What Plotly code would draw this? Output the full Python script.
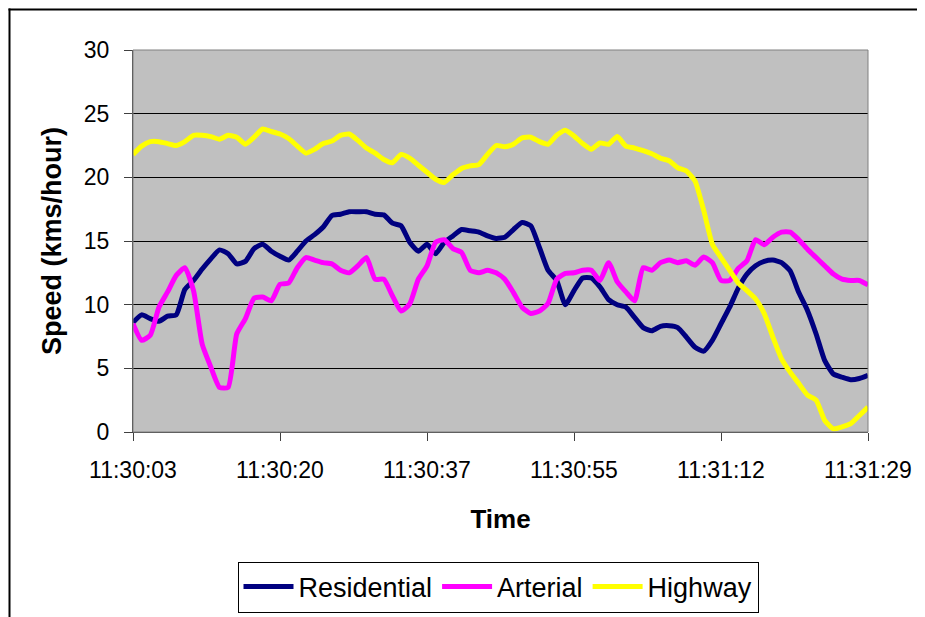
import plotly.graph_objects as go
import numpy as np

tick_labels = ["11:30:03", "11:30:20", "11:30:37", "11:30:55", "11:31:12", "11:31:29"]

residential = [8.6, 9.2, 8.9, 8.7, 9.1, 9.2, 11.2, 11.9, 12.8, 13.6,
               14.3, 14.0, 13.2, 13.4, 14.4, 14.75, 14.2, 13.8, 13.5, 14.2,
               15.0, 15.5, 16.1, 17.0, 17.1, 17.3, 17.3, 17.3, 17.1, 17.05,
               16.4, 16.2, 14.9, 14.2, 14.75, 14.0, 14.9, 15.4, 15.9, 15.8,
               15.7, 15.4, 15.2, 15.3, 15.9, 16.45, 16.2, 14.5, 12.7, 11.9,
               10.0, 11.1, 12.1, 12.1, 11.4, 10.4, 10.0, 9.8, 9.0, 8.2,
               7.95, 8.3, 8.35, 8.2, 7.45, 6.65, 6.35, 7.2, 8.5, 9.8,
               11.3, 12.4, 13.05, 13.4, 13.5, 13.3, 12.65, 10.95, 9.55, 7.7,
               5.6, 4.55, 4.3, 4.1, 4.2, 4.45]

arterial = [8.5, 7.2, 7.6, 9.8, 11.0, 12.3, 12.9, 11.1, 6.9, 5.1,
            3.5, 3.5, 7.7, 8.9, 10.5, 10.6, 10.3, 11.6, 11.7, 12.9,
            13.7, 13.5, 13.3, 13.2, 12.7, 12.5, 13.05, 13.7, 12.0, 12.0,
            10.7, 9.5, 10.05, 12.0, 13.05, 14.9, 15.1, 14.4, 14.1, 12.7,
            12.5, 12.7, 12.5, 12.0, 10.95, 9.8, 9.3, 9.5, 10.1, 12.0,
            12.45, 12.5, 12.7, 12.7, 11.9, 13.3, 11.8, 11.0, 10.3, 12.9,
            12.7, 13.3, 13.5, 13.3, 13.45, 13.1, 13.75, 13.3, 11.9, 11.9,
            12.85, 13.45, 15.1, 14.7, 15.3, 15.7, 15.7, 15.1, 14.35, 13.7,
            13.05, 12.4, 12.0, 11.9, 11.9, 11.55]

highway = [21.8, 22.45, 22.8, 22.8, 22.65, 22.5, 22.8, 23.3, 23.3, 23.2,
           23.0, 23.3, 23.15, 22.6, 23.15, 23.8, 23.6, 23.4, 23.05, 22.45,
           21.9, 22.2, 22.65, 22.85, 23.3, 23.4, 22.9, 22.3, 21.9, 21.4,
           21.15, 21.8, 21.5, 20.95, 20.4, 19.85, 19.6, 20.2, 20.7, 20.9,
           21.0, 21.8, 22.5, 22.4, 22.6, 23.1, 23.15, 22.8, 22.6, 23.3,
           23.7, 23.25, 22.65, 22.2, 22.7, 22.6, 23.2, 22.45, 22.3, 22.1,
           21.85, 21.5, 21.3, 20.75, 20.5, 19.7, 17.4, 14.75, 13.7, 12.7,
           11.7, 11.1, 10.45, 9.3, 7.45, 5.75, 4.7, 3.8, 2.9, 2.5,
           0.9, 0.25, 0.4, 0.65, 1.3, 1.95]

n = len(residential)
x = list(range(n))
tick_vals = list(np.linspace(0, n - 1, len(tick_labels)))

FONT = "Liberation Sans, Arial, sans-serif"

fig = go.Figure()
for name, ys, color in [("Residential", residential, "#000080"),
                        ("Arterial", arterial, "#FF00FF"),
                        ("Highway", highway, "#FFFF00")]:
    fig.add_trace(go.Scatter(x=x, y=ys, mode="lines", name=name,
                             line=dict(color=color, width=5, shape="spline", smoothing=0.5)))

# page has an 8px body margin: figure coords = screen coords - 8
OFF = 8
W, H = 925 - 2 * OFF, 617 - OFF
L, R, T = 133 - OFF, 925 - OFF - 868, 50 - OFF
B = H - (432 - OFF)
pw, ph = W - L - R, H - T - B

def px(xs):
    return (xs - OFF - L) / pw

def py(ys):
    return (H - B - (ys - OFF)) / ph

fig.update_layout(
    width=W, height=H,
    margin=dict(l=L, r=R, t=T, b=B, autoexpand=False),
    paper_bgcolor="white",
    plot_bgcolor="#C0C0C0",
    font=dict(family=FONT, color="black", size=23),
    showlegend=True,
    legend=dict(orientation="h", x=px(498), y=py(587), xanchor="center", yanchor="middle",
                bordercolor="black", borderwidth=1, bgcolor="white",
                font=dict(size=27, family=FONT), itemwidth=50),
    xaxis=dict(range=[0, n - 1], tickvals=tick_vals, ticktext=tick_labels,
               showgrid=False, zeroline=False, showline=True, linecolor="#404040", linewidth=1,
               ticks="outside", ticklen=8, tickcolor="#404040",
               tickfont=dict(size=23), ticklabelstandoff=9,
               title=dict(text="<b>Time</b>", font=dict(size=26), standoff=28)),
    yaxis=dict(range=[0, 30], dtick=5, showgrid=True, gridcolor="#000000", gridwidth=1,
               zeroline=False, showline=True, linecolor="#404040", linewidth=1,
               ticks="outside", ticklen=8, tickcolor="#404040",
               tickfont=dict(size=23), ticklabelstandoff=10,
               title=dict(text="<b>Speed (kms/hour)</b>", font=dict(size=27), standoff=14)),
    shapes=[
        dict(type="rect", xref="paper", yref="paper", x0=0, x1=1, y0=0, y1=1,
             line=dict(color="#808080", width=1), layer="above"),
        dict(type="line", xref="paper", yref="paper", x0=px(8.5), x1=px(940), y0=py(9.5), y1=py(9.5),
             line=dict(color="black", width=2)),
        dict(type="line", xref="paper", yref="paper", x0=px(9.5), x1=px(9.5), y0=py(8.5), y1=py(640),
             line=dict(color="black", width=2)),
    ],
)

fig.write_html("out.html")
